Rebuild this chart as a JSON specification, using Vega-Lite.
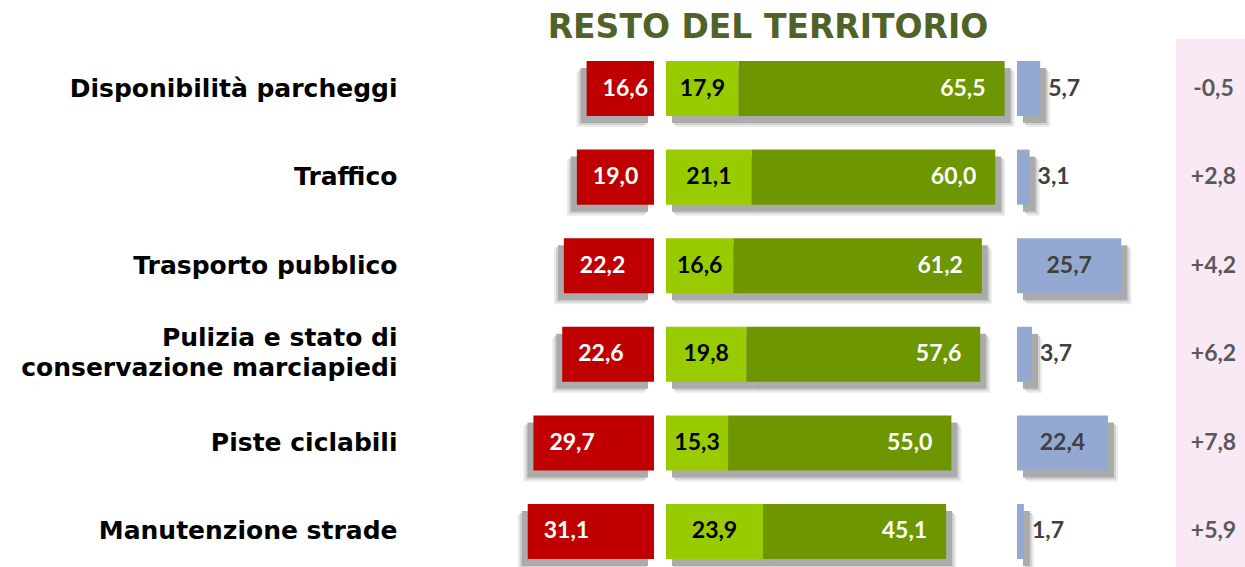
{
  "$schema": "https://vega.github.io/schema/vega-lite/v6.json",
  "padding": {"left": 5, "right": 0, "top": 12, "bottom": 0},
  "background": "white",
  "config": {
    "view": {"stroke": null},
    "locale": {"number": {"decimal": ",", "thousands": ".", "grouping": [3], "currency": ["€", ""], "minus": "-"}}
  },
  "title": {"text": "RESTO DEL TERRITORIO", "font": "DejaVu Sans", "fontSize": 33, "fontWeight": "bold", "color": "#4F6228", "anchor": "middle", "baseline": "alphabetic", "offset": -32, "dx": 143},
  "bounds": "flush",
  "spacing": 12,
  "datasets": {
    "d": [
      {"voce": "Disponibilità parcheggi", "insoddisfatti": 16.6, "abbastanza": 17.9, "molto": 65.5, "nonsa": 5.7, "saldo": -0.5},
      {"voce": "Traffico", "insoddisfatti": 19.0, "abbastanza": 21.1, "molto": 60.0, "nonsa": 3.1, "saldo": 2.8},
      {"voce": "Trasporto pubblico", "insoddisfatti": 22.2, "abbastanza": 16.6, "molto": 61.2, "nonsa": 25.7, "saldo": 4.2},
      {"voce": "Pulizia e stato di conservazione marciapiedi", "insoddisfatti": 22.6, "abbastanza": 19.8, "molto": 57.6, "nonsa": 3.7, "saldo": 6.2},
      {"voce": "Piste ciclabili", "insoddisfatti": 29.7, "abbastanza": 15.3, "molto": 55.0, "nonsa": 22.4, "saldo": 7.8},
      {"voce": "Manutenzione strade", "insoddisfatti": 31.1, "abbastanza": 23.9, "molto": 45.1, "nonsa": 1.7, "saldo": 5.9}
    ]
  },
  "hconcat": [
    {
      "width": 249, "height": 529,
      "data": {"name": "d"},
      "encoding": {
        "y": {"field": "voce", "type": "nominal", "sort": null,
          "scale": {"type": "band", "paddingInner": 0.379, "paddingOuter": 0.175, "align": 0.71},
          "axis": {"title": null, "domain": false, "ticks": false, "grid": false,
            "labelFont": "DejaVu Sans", "labelFontSize": 25, "labelFontWeight": "bold", "labelColor": "black",
            "labelPadding": 8, "labelLimit": 1000, "labelLineHeight": 30, "minExtent": 400, "maxExtent": 400,
            "labelOffset": {"condition": {"test": "datum.value == 'Pulizia e stato di conservazione marciapiedi'", "value": -16}, "value": 0},
            "labelExpr": "datum.label == 'Pulizia e stato di conservazione marciapiedi' ? ['Pulizia e stato di', 'conservazione marciapiedi'] : datum.label"}
        },
        "x": {"field": "insoddisfatti", "type": "quantitative", "scale": {"domain": [0, 61.33], "reverse": true, "nice": false}, "axis": null}
      },
      "layer": [
        {"mark": {"type": "bar", "color": "#ebebeb", "xOffset": -10, "x2Offset": -10, "yOffset": 11}},
        {"mark": {"type": "bar", "color": "#d2d2d2", "xOffset": -8, "x2Offset": -8, "yOffset": 9}},
        {"mark": {"type": "bar", "color": "#ababab", "xOffset": -6, "x2Offset": -6, "yOffset": 7}},
        {"mark": {"type": "bar", "color": "#C00000"}},
        {"mark": {"type": "text", "align": "left", "dx": 16, "font": "Lato", "fontWeight": "bold", "fontSize": 23, "color": "white"},
          "encoding": {"text": {"field": "insoddisfatti", "type": "quantitative", "format": ".1f"}}}
      ]
    },
    {
      "width": 339, "height": 529,
      "data": {"name": "d"},
      "encoding": {
        "y": {"field": "voce", "type": "nominal", "sort": null,
          "scale": {"type": "band", "paddingInner": 0.379, "paddingOuter": 0.175, "align": 0.71}, "axis": null}
      },
      "layer": [
        {"transform": [{"fold": ["abbastanza", "molto"], "as": ["seg", "val"]}],
          "mark": {"type": "bar", "color": "#ebebeb", "xOffset": 10, "x2Offset": 10, "yOffset": 11},
          "encoding": {"x": {"field": "val", "type": "quantitative", "stack": "zero", "scale": {"domain": [0, 83.5], "nice": false}, "axis": null},
            "detail": {"field": "seg"}, "order": {"field": "seg"}}},
        {"transform": [{"fold": ["abbastanza", "molto"], "as": ["seg", "val"]}],
          "mark": {"type": "bar", "color": "#d2d2d2", "xOffset": 8, "x2Offset": 8, "yOffset": 9},
          "encoding": {"x": {"field": "val", "type": "quantitative", "stack": "zero", "scale": {"domain": [0, 83.5], "nice": false}, "axis": null},
            "detail": {"field": "seg"}, "order": {"field": "seg"}}},
        {"transform": [{"fold": ["abbastanza", "molto"], "as": ["seg", "val"]}],
          "mark": {"type": "bar", "color": "#ababab", "xOffset": 6, "x2Offset": 6, "yOffset": 7},
          "encoding": {"x": {"field": "val", "type": "quantitative", "stack": "zero", "scale": {"domain": [0, 83.5], "nice": false}, "axis": null},
            "detail": {"field": "seg"}, "order": {"field": "seg"}}},
        {"transform": [{"fold": ["abbastanza", "molto"], "as": ["seg", "val"]}],
          "mark": {"type": "bar"},
          "encoding": {"x": {"field": "val", "type": "quantitative", "stack": "zero", "scale": {"domain": [0, 83.5], "nice": false}, "axis": null},
            "color": {"field": "seg", "type": "nominal", "scale": {"domain": ["abbastanza", "molto"], "range": ["#99CC00", "#6E9600"]}, "legend": null},
            "order": {"field": "seg"}}},
        {"transform": [{"fold": ["abbastanza", "molto"], "as": ["seg", "val"]}],
          "mark": {"type": "text", "align": "right", "dx": -19, "font": "Lato", "fontWeight": "bold", "fontSize": 23, "color": "white"},
          "encoding": {"x": {"field": "val", "type": "quantitative", "stack": "zero", "scale": {"domain": [0, 83.5], "nice": false}, "axis": null},
            "detail": {"field": "seg"}, "order": {"field": "seg"},
            "text": {"condition": {"test": "datum.seg === 'abbastanza'", "value": ""}, "field": "val", "type": "quantitative", "format": ".1f"}}},
        {"mark": {"type": "text", "align": "center", "font": "Lato", "fontWeight": "bold", "fontSize": 23, "color": "black"},
          "encoding": {"x": {"field": "abbastanza", "type": "quantitative", "scale": {"domain": [0, 167], "nice": false}, "axis": null},
            "text": {"field": "abbastanza", "type": "quantitative", "format": ".1f"}}}
      ],
      "resolve": {"scale": {"x": "independent"}}
    },
    {
      "width": 147, "height": 529,
      "data": {"name": "d"},
      "encoding": {
        "y": {"field": "voce", "type": "nominal", "sort": null,
          "scale": {"type": "band", "paddingInner": 0.379, "paddingOuter": 0.175, "align": 0.71}, "axis": null}
      },
      "layer": [
        {"mark": {"type": "bar", "color": "#ebebeb", "xOffset": 10, "x2Offset": 10, "yOffset": 11},
          "encoding": {"x": {"field": "nonsa", "type": "quantitative", "scale": {"domain": [0, 36.2], "nice": false}, "axis": null}}},
        {"mark": {"type": "bar", "color": "#d2d2d2", "xOffset": 8, "x2Offset": 8, "yOffset": 9},
          "encoding": {"x": {"field": "nonsa", "type": "quantitative", "scale": {"domain": [0, 36.2], "nice": false}, "axis": null}}},
        {"mark": {"type": "bar", "color": "#ababab", "xOffset": 6, "x2Offset": 6, "yOffset": 7},
          "encoding": {"x": {"field": "nonsa", "type": "quantitative", "scale": {"domain": [0, 36.2], "nice": false}, "axis": null}}},
        {"mark": {"type": "bar", "color": "#93A9D1"},
          "encoding": {"x": {"field": "nonsa", "type": "quantitative", "scale": {"domain": [0, 36.2], "nice": false}, "axis": null}}},
        {"transform": [{"filter": "datum.nonsa >= 10"}],
          "mark": {"type": "text", "align": "center", "font": "Lato", "fontWeight": "bold", "fontSize": 23, "color": "#404040"},
          "encoding": {"x": {"field": "nonsa", "type": "quantitative", "scale": {"domain": [0, 72.4], "nice": false}, "axis": null},
            "text": {"field": "nonsa", "type": "quantitative", "format": ".1f"}}},
        {"transform": [{"filter": "datum.nonsa < 10"}],
          "mark": {"type": "text", "align": "left", "dx": 8, "font": "Lato", "fontWeight": "bold", "fontSize": 23, "color": "#404040"},
          "encoding": {"x": {"field": "nonsa", "type": "quantitative", "scale": {"domain": [0, 36.2], "nice": false}, "axis": null},
            "text": {"field": "nonsa", "type": "quantitative", "format": ".1f"}}}
      ],
      "resolve": {"scale": {"x": "independent"}}
    },
    {
      "width": 69, "height": 529,
      "view": {"fill": "#F9E9F5", "stroke": null},
      "data": {"name": "d"},
      "mark": {"type": "text", "align": "center", "dx": 3, "font": "Lato", "fontWeight": "bold", "fontSize": 23, "color": "#595959"},
      "encoding": {
        "y": {"field": "voce", "type": "nominal", "sort": null,
          "scale": {"type": "band", "paddingInner": 0.379, "paddingOuter": 0.175, "align": 0.71}, "axis": null},
        "x": {"datum": 0, "type": "quantitative", "scale": {"domain": [-1, 1]}, "axis": null},
        "text": {"field": "saldo", "type": "quantitative", "format": "+.1f"}
      }
    }
  ]
}
